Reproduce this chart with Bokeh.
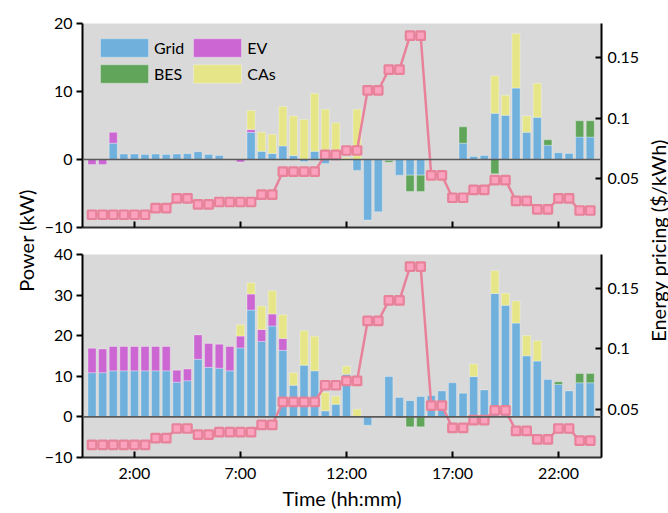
import numpy as np
from bokeh.plotting import figure
from bokeh.models import (Range1d, LinearAxis, FixedTicker, Span, Legend,
                          LegendItem, Label, CustomLabelingPolicy)
from bokeh.layouts import row, column
from bokeh.embed import file_html
from bokeh.resources import INLINE

# ---------------- data ----------------
hours = np.arange(48) * 0.5          # half-hour slots 0:00 ... 23:30
tick_hours = [2, 7, 12, 17, 22]
tick_labels = ["2:00", "7:00", "12:00", "17:00", "22:00"]
series_names = ["Grid", "EV", "BES", "CAs"]

price = [0.0205, 0.0205, 0.0205, 0.0205, 0.0205, 0.0205, 0.026, 0.026,
         0.034, 0.034, 0.029, 0.029, 0.031, 0.031, 0.031, 0.031,
         0.037, 0.037, 0.056, 0.056, 0.056, 0.056, 0.0698, 0.0698,
         0.0734, 0.0734, 0.123, 0.123, 0.140, 0.140, 0.168, 0.168,
         0.053, 0.053, 0.0345, 0.0345, 0.041, 0.041, 0.049, 0.049,
         0.032, 0.032, 0.025, 0.025, 0.034, 0.034, 0.024, 0.024]

# top panel
top_grid = [0, 0, 2.4, 0.8, 0.8, 0.75, 0.8, 0.75, 0.8, 0.85, 1.15, 0.75,
            0.6, 0, 0, 4.0, 1.2, 0.9, 2.0, 0.6, -0.3, 1.2, -0.6, 0,
            0, -1.6, -8.9, -7.7, -0.15, -2.3, -2.3, -2.3, 0, 0, 0, 2.4,
            0.45, 0.6, 6.8, 6.5, 10.5, 4.0, 6.2, 2.1, 1.0, 0.9, 3.3, 3.3]
top_ev = [-0.75, -0.75, 1.6, 0, 0, 0, 0, 0, 0, 0, 0, 0,
          0, -0.05, -0.35, 0.4, 0, 0, 0, 0, 0, 0, 0, 0,
          0, 0, 0, 0, 0, 0, 0, 0, 0, 0, 0, 0,
          0, 0, 0, 0, 0, 0, 0, 0, 0, 0, 0, 0]
top_bes = [0, 0, 0, 0, 0, 0, 0, 0, 0, 0, 0, 0,
           0, 0, 0, 0, 0, 0, 0, 0, 0, 0, 0, 0,
           0, 0, 0, 0, -0.25, 0, -2.4, -2.4, 0, 0, 0, 2.4,
           0, 0, -2.1, 0, 0, 0, 0, 0.8, 0, 0, 2.4, 2.4]
top_cas = [0, 0, 0, 0, 0, 0, 0, 0, 0, 0, 0, 0,
           0, 0, 0, 2.8, 2.8, 2.8, 5.8, 5.8, 5.9, 8.5, 7.4, 5.4,
           0.3, 7.4, 0, 0, 0, 0, 0, 0, 0, 0, 0, 0,
           0, 0, 5.5, 2.95, 8.0, 2.4, 5.0, 0, 0, 0, 0, 0]

# bottom panel
bot_grid = [10.9, 10.9, 11.35, 11.35, 11.35, 11.35, 11.35, 11.35, 8.55, 8.9, 14.2, 12.2,
            12.0, 11.35, 17.0, 26.3, 18.6, 22.4, 16.4, 7.8, 12.75, 11.35, 1.5, 3.1,
            10.5, 0, -2.05, 0, 9.95, 4.8, 4.0, 5.0, 5.25, 6.4, 8.4, 5.85,
            9.95, 6.65, 30.4, 27.5, 23.1, 15.05, 13.75, 9.2, 8.0, 6.4, 8.4, 8.4]
bot_ev = [6.0, 5.85, 6.0, 6.0, 6.0, 6.0, 6.0, 6.0, 2.95, 2.9, 6.0, 5.9,
          5.9, 6.0, 2.9, 3.95, 2.95, 2.95, 2.9, 0, 0, 0, 0, 0,
          0, 0, 0, 0, 0, 0, 0, 0, 0, 0, 0, 0,
          0, 0, 0, 0, 0, 0, 0, 0, 0, 0, 0, 0]
bot_bes = [0, 0, 0, 0, 0, 0, 0, 0, 0, 0, 0, 0,
           0, 0, 0, 0, 0, 0, 0, 0, 0, 0, 0, 0,
           0, 0, 0, 0, 0, -0.3, -2.45, -2.45, 0, 0, 0, 0,
           0, 0, 0, 0, 0, 0, 0, 0, 0.65, 0, 2.3, 2.3]
bot_cas = [0, 0, 0, 0, 0, 0, 0, 0, 0, 0, 0, 0,
           0, 0, 2.8, 2.8, 5.75, 5.75, 5.85, 3.05, 8.5, 8.5, 4.5, 2.0,
           2.0, 1.9, 0, 0, 0, 0, 0, 0, 0, 0, 0, 0,
           3.05, 0, 5.6, 2.95, 5.45, 5.0, 5.0, 0, 0, 0, 0, 0]

# ---------------- style ----------------
FONT = "Lato"
COLORS = {"Grid": "#6fb0dc", "EV": "#cc66d3", "BES": "#60a55a", "CAs": "#e6e688"}
PRICE_LINE = "#e8829b"
PRICE_FILL = "#fba3be"
BG = "#d9d9d9"

LEFT_W, RIGHT_W = 37, 21          # outer label strips
B_LEFT, B_RIGHT = 45, 46          # figure borders
PANEL_W = 668 - LEFT_W - RIGHT_W  # 610 -> frame 519 px wide


def style_axis(ax, tin, tout):
    ax.axis_line_color = "black"
    ax.axis_line_width = 2
    ax.major_tick_line_color = "black"
    ax.major_tick_line_width = 2
    ax.major_tick_in = tin
    ax.major_tick_out = tout
    ax.minor_tick_line_color = None
    ax.major_label_text_font = FONT
    ax.major_label_text_font_size = "16px"
    ax.major_label_text_color = "black"


def panel(vals, y_lo, y_hi, y_ticks, height, b_top, b_bottom, bottom_panel, with_legend):
    p = figure(width=PANEL_W, height=height, x_range=Range1d(-0.45, 24.03),
               y_range=Range1d(y_lo, y_hi), toolbar_location=None,
               output_backend="svg", background_fill_color=BG,
               border_fill_color="white",
               min_border_left=B_LEFT, min_border_right=B_RIGHT,
               min_border_top=b_top, min_border_bottom=b_bottom)
    p.outline_line_color = None
    p.grid.visible = False
    p.extra_y_ranges = {"price": Range1d(0.01, 0.178)}

    p.add_layout(Span(location=0, dimension="width", line_color="#5a5a5a",
                      line_width=1.6))

    pos_base = np.zeros(48)
    neg_base = np.zeros(48)
    rends = {}
    for name, v in zip(series_names, vals):
        v = np.asarray(v, dtype=float)
        pos = np.where(v > 0, v, 0.0)
        neg = np.where(v < 0, v, 0.0)
        mp = pos > 0
        mn = neg < 0
        kw = dict(width=0.38, fill_color=COLORS[name], line_color="white",
                  line_alpha=0.3, line_width=1)
        r = p.vbar(x=hours[mp], bottom=pos_base[mp], top=(pos_base + pos)[mp], **kw)
        if mn.any():
            p.vbar(x=hours[mn], bottom=neg_base[mn], top=(neg_base + neg)[mn], **kw)
        rends[name] = r
        pos_base = pos_base + pos
        neg_base = neg_base + neg

    p.line(hours, price, y_range_name="price", line_color=PRICE_LINE, line_width=2.5)
    p.scatter(hours, price, y_range_name="price", marker="square", size=8.5,
              fill_color=PRICE_FILL, line_color=PRICE_LINE, line_width=2.2)

    # left axis
    ya = p.yaxis[0]
    ya.ticker = FixedTicker(ticks=y_ticks)
    style_axis(ya, 0, 6)
    ya.major_label_standoff = 4

    # right axis
    ra = LinearAxis(y_range_name="price",
                    ticker=FixedTicker(ticks=[0.05, 0.1, 0.15]),
                    major_label_overrides={0.05: "0.05", 0.1: "0.1", 0.15: "0.15"})
    style_axis(ra, 6, 0)
    ra.major_label_standoff = 6
    p.add_layout(ra, "right")

    # bottom axis
    xa = p.xaxis[0]
    xa.ticker = FixedTicker(ticks=tick_hours)
    xa.major_label_overrides = {h: l for h, l in zip(tick_hours, tick_labels)}
    style_axis(xa, 6, 0)
    xa.axis_line_color = "#303030"
    if bottom_panel:
        xa.axis_label = "Time (hh:mm)"
        xa.axis_label_text_font = FONT
        xa.axis_label_text_font_size = "20px"
        xa.axis_label_text_font_style = "normal"
        xa.axis_label_text_color = "black"
        xa.major_label_standoff = 5
        xa.axis_label_standoff = 1
    else:
        xa.major_label_text_font_size = "0px"
        xa.major_label_standoff = 0
        xa.major_label_policy = CustomLabelingPolicy(code="return []")

    if with_legend:
        items = [LegendItem(label=n, renderers=[rends[n]]) for n in series_names]
        lg = Legend(items=items, location=(12, 142), orientation="horizontal",
                    ncols=2, glyph_width=60, glyph_height=23, label_standoff=0,
                    spacing=3, padding=0, margin=0,
                    background_fill_alpha=0, border_line_color=None,
                    label_text_font=FONT, label_text_font_size="16px",
                    label_text_color="black", label_height=19)
        p.add_layout(lg, "center")
    return p


top = panel([top_grid, top_ev, top_bes, top_cas], -10, 20, [-10, 0, 10, 20],
            241, 23, 14, False, True)
bot = panel([bot_grid, bot_ev, bot_bes, bot_cas], -10, 40, [-10, 0, 10, 20, 30, 40],
            272, 13, 56, True, False)


def label_fig(w, text, x):
    f = figure(width=w, height=513, x_range=Range1d(0, w), y_range=Range1d(0, 513),
               toolbar_location=None, output_backend="svg",
               x_axis_type=None, y_axis_type=None, min_border=0)
    f.outline_line_color = None
    f.add_layout(Label(x=x, y=273, text=text, angle=np.pi / 2,
                       text_align="center", text_baseline="middle",
                       text_font=FONT, text_font_size="20px", text_color="black"))
    return f


left = label_fig(LEFT_W, "Power (kW)", 25)
right = label_fig(RIGHT_W, "Energy pricing ($/kWh)", 10)

layout = row(left, column(top, bot), right)

with open("out.html", "w") as fh:
    fh.write(file_html(layout, INLINE))
